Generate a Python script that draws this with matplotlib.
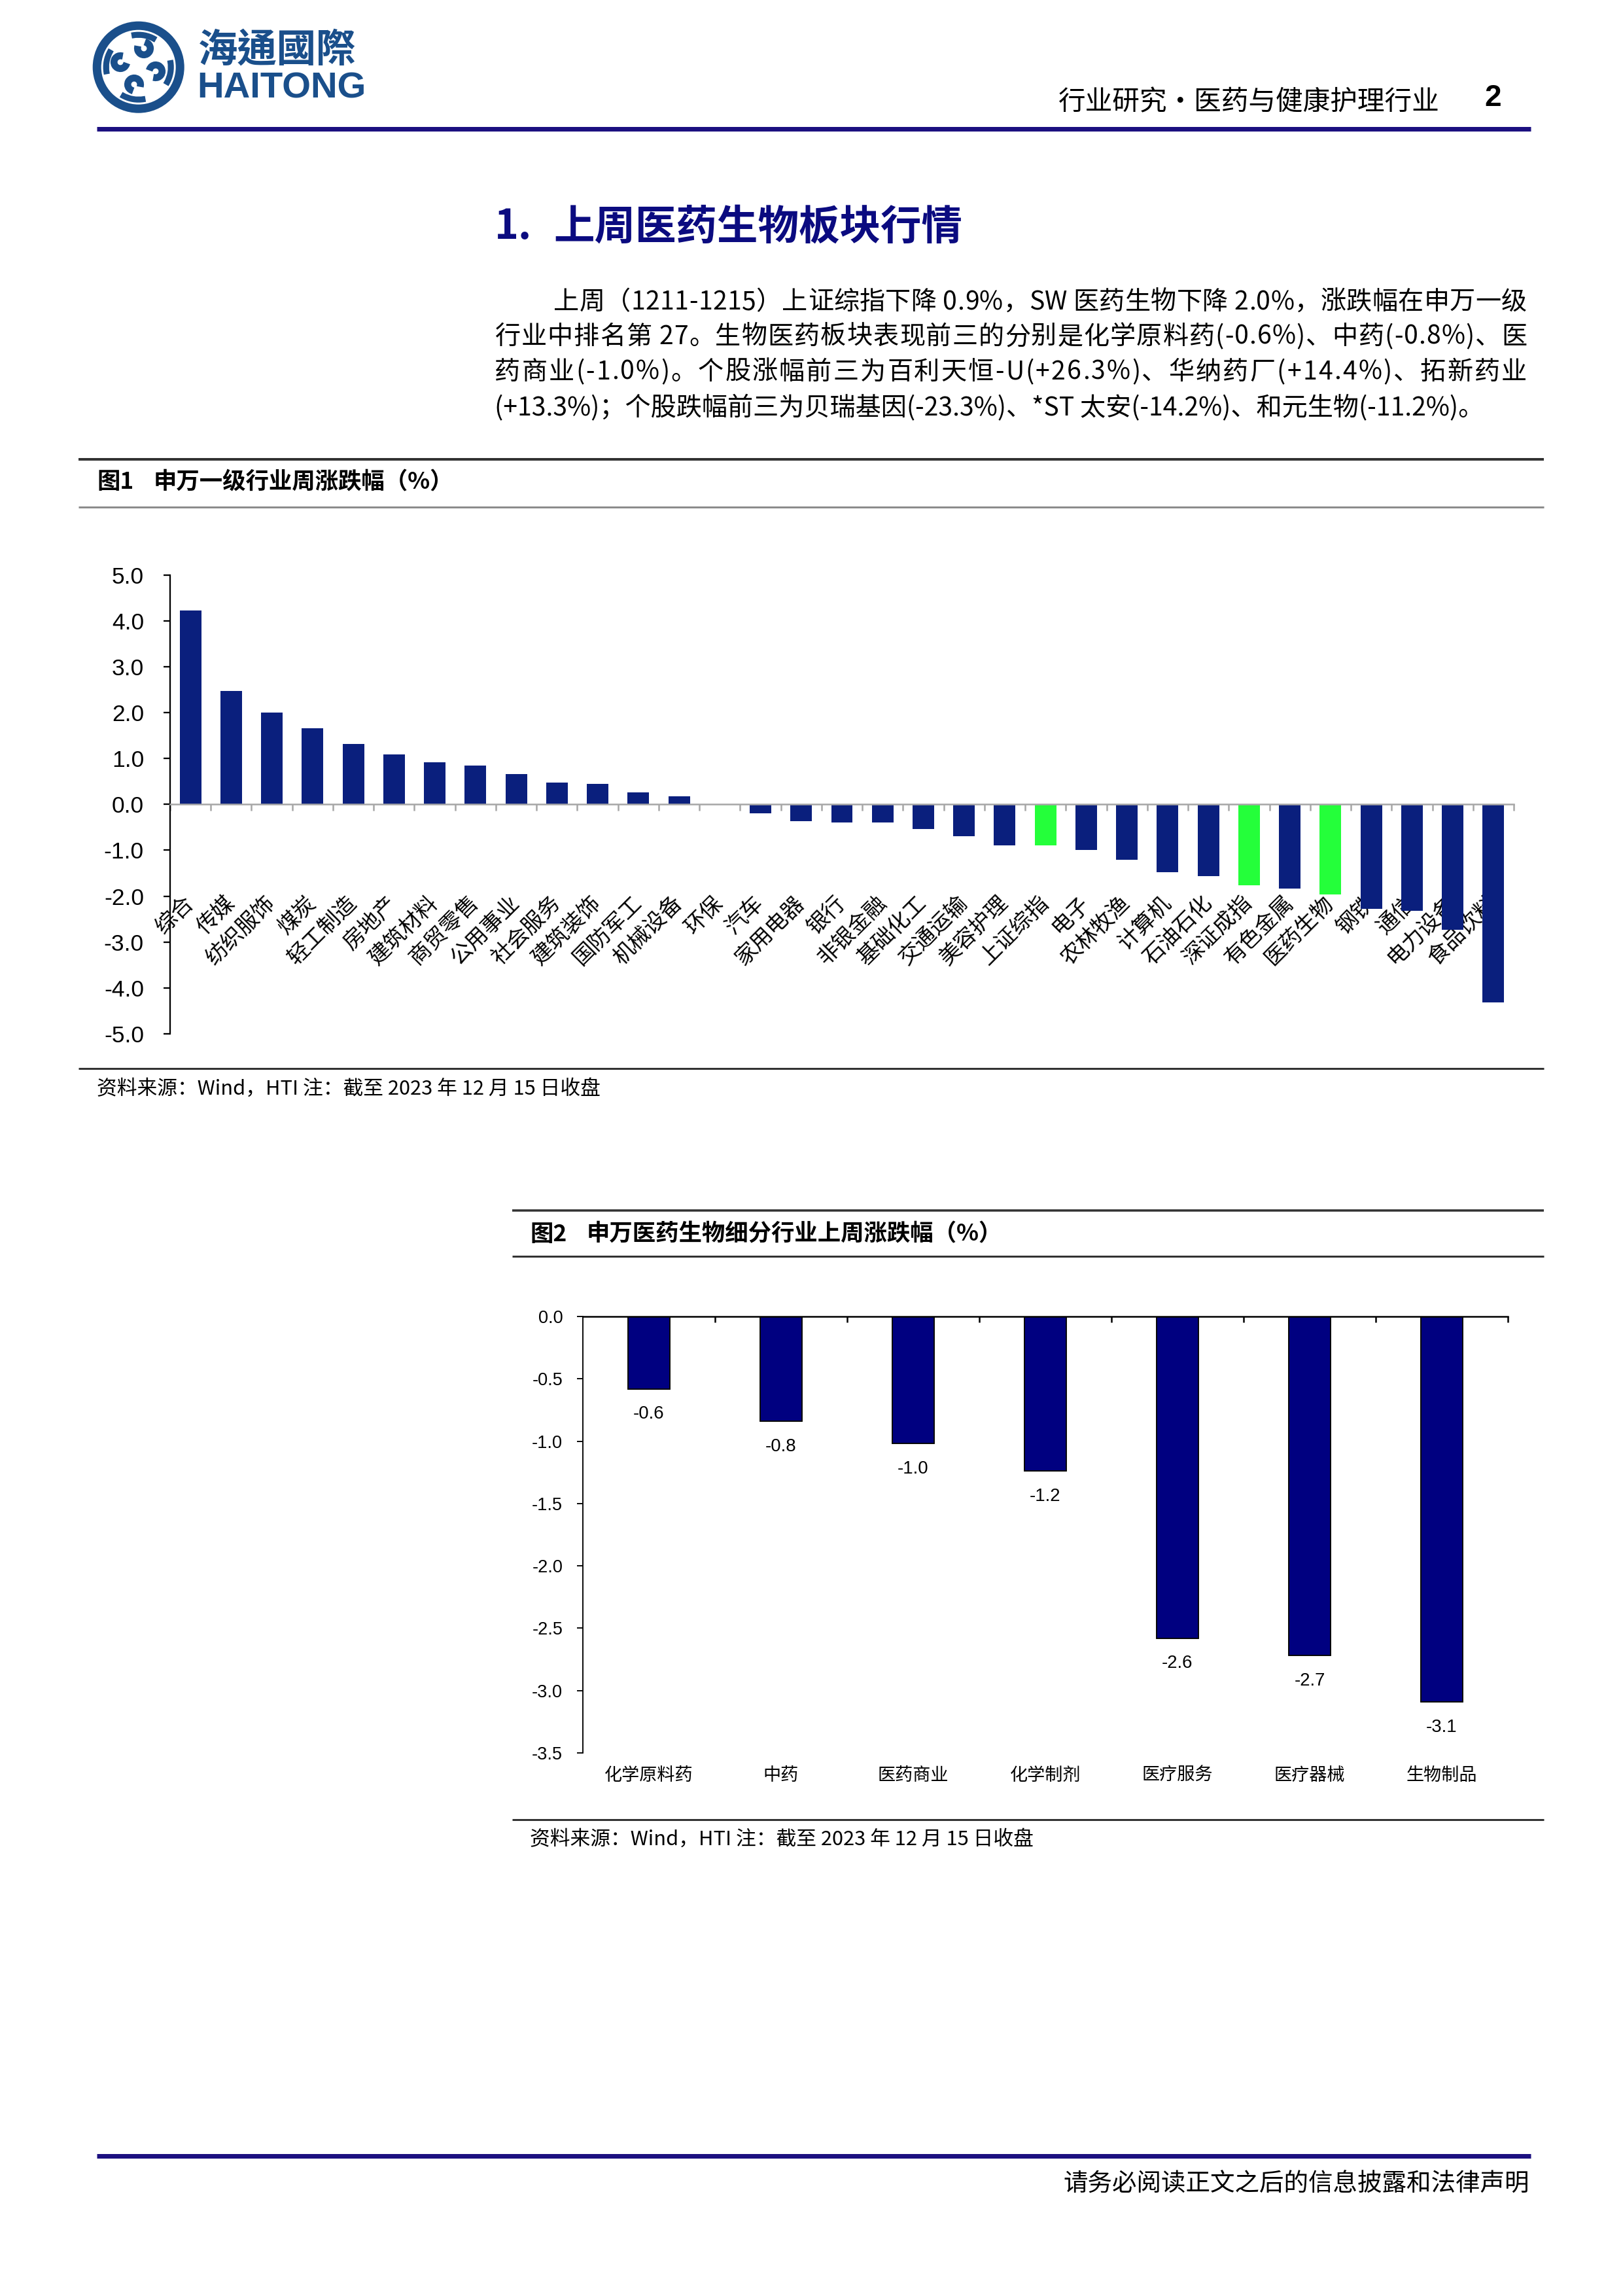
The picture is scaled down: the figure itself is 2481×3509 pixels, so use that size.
import numpy as np
import matplotlib
matplotlib.use('Agg')
import matplotlib.pyplot as plt
from matplotlib.lines import Line2D
from matplotlib.patches import Circle, Wedge
from matplotlib.font_manager import FontProperties

plt.rcParams['font.family'] = ['Noto Sans CJK SC', 'DejaVu Sans']
plt.rcParams['axes.unicode_minus'] = False

# chart 1: SW level-1 industries, weekly change (%)
names1 = ['综合', '传媒', '纺织服饰', '煤炭', '轻工制造', '房地产', '建筑材料', '商贸零售',
          '公用事业', '社会服务', '建筑装饰', '国防军工', '机械设备', '环保', '汽车', '家用电器',
          '银行', '非银金融', '基础化工', '交通运输', '美容护理', '上证综指', '电子', '农林牧渔',
          '计算机', '石油石化', '深证成指', '有色金属', '医药生物', '钢铁', '通信', '电力设备', '食品饮料']
vals1 = [4.22, 2.47, 2.00, 1.66, 1.32, 1.09, 0.92, 0.85, 0.66, 0.47, 0.44, 0.26, 0.17, -0.01,
         -0.19, -0.36, -0.39, -0.40, -0.54, -0.70, -0.89, -0.89, -0.99, -1.21, -1.48, -1.57,
         -1.76, -1.84, -1.97, -2.28, -2.32, -2.73, -4.32]
highlight = ['上证综指', '深证成指', '医药生物']
yticks1 = [5.0, 4.0, 3.0, 2.0, 1.0, 0.0, -1.0, -2.0, -3.0, -4.0, -5.0]

# chart 2: SW pharma sub-industries, last week change (%)
names2 = ['化学原料药', '中药', '医药商业', '化学制剂', '医疗服务', '医疗器械', '生物制品']
vals2 = [-0.58, -0.84, -1.02, -1.24, -2.58, -2.72, -3.09]
yticks2 = [0.0, -0.5, -1.0, -1.5, -2.0, -2.5, -3.0, -3.5]

para = ['上周（1211-1215）上证综指下降 0.9%，SW 医药生物下降 2.0%，涨跌幅在申万一级',
        '行业中排名第 27。生物医药板块表现前三的分别是化学原料药(-0.6%)、中药(-0.8%)、医',
        '药商业(-1.0%)。个股涨幅前三为百利天恒-U(+26.3%)、华纳药厂(+14.4%)、拓新药业',
        '(+13.3%)；个股跌幅前三为贝瑞基因(-23.3%)、*ST 太安(-14.2%)、和元生物(-11.2%)。']
source = '资料来源：Wind，HTI 注：截至 2023 年 12 月 15 日收盘'

W, H = 2481, 3509
fig = plt.figure(figsize=(W / 300, H / 300), dpi=300)
renderer = fig.canvas.get_renderer()


def fx(x):
    return x / W


def fy(y):
    return 1 - y / H


def hline(y, x0, x1, px, color):
    fig.add_artist(Line2D([fx(x0), fx(x1)], [fy(y), fy(y)], transform=fig.transFigure,
                          lw=px * 72 / 300, color=color, solid_capstyle='butt'))


def put_justified(s, x0, x1, y, prop):
    # spread the characters so the line fills x0..x1
    def w(t):
        return renderer.get_text_width_height_descent(t, prop, ismath=False)[0]
    ref = w('|')
    pos = [0.0] + [w(s[:k] + '|') - ref for k in range(1, len(s))]
    natural = w(s + '|') - ref
    gap = (x1 - x0 - natural) / (len(s) - 1)
    for k, c in enumerate(s):
        if c != ' ':
            fig.text(fx(x0 + pos[k] + k * gap), fy(y), c, fontproperties=prop, va='baseline')


# header / logo
blue = '#1A4F8B'
lax = fig.add_axes([fx(130), fy(190), fx(570) - fx(130), fy(20) - fy(190)])
lax.set_xlim(130, 570)
lax.set_ylim(190, 20)
lax.axis('off')
lax.add_patch(Circle((211.7, 102.7), 63.5, fill=False, lw=13 * 0.24, color=blue))
for (cx, cy), a in zip([(184, 95), (220, 74), (238, 109), (205, 129)], [20, 290, 200, 110]):
    lax.add_patch(Wedge((cx, cy), 13, a, a + 260, width=6.5, color=blue))
    lax.add_patch(Wedge((211.7, 102.7), 52, a + 60, a + 100, width=5, color=blue))
lax.text(303, 77, '海通國際', fontsize=14.5, weight='bold', color=blue, va='center',
         family=['Noto Sans CJK TC', 'DejaVu Sans'])
lax.text(301, 135, 'HAITONG', fontsize=13.5, weight='bold', color=blue, va='center',
         family='Liberation Sans')

fig.text(fx(2201), fy(157), '行业研究•医药与健康护理行业', fontsize=10, ha='right', va='center')
fig.text(fx(2282), fy(150), '2', fontsize=11, weight='bold', ha='center', va='center',
         family='Liberation Sans')
hline(197, 148, 2340, 7, '#1C1080')

# section title and text
fig.text(fx(756), fy(347), '1.', fontsize=15, weight='bold', color='#0B0B80', va='center')
fig.text(fx(846), fy(347), '上周医药生物板块行情', fontsize=15, weight='bold', color='#0B0B80',
         va='center')
pprop = FontProperties(family=['Noto Sans CJK SC', 'DejaVu Sans'], size=9.4)
line_y = [459, 512, 566, 620]
put_justified(para[0], 846, 2334, line_y[0] + 14, pprop)
put_justified(para[1], 756, 2334, line_y[1] + 14, pprop)
put_justified(para[2], 756, 2334, line_y[2] + 14, pprop)
fig.text(fx(756), fy(line_y[3] + 14), para[3], fontproperties=pprop, va='baseline')

# figure 1 frame
hline(702, 120, 2360, 4, '#333333')
fig.text(fx(148), fy(737), '图1', fontsize=8.5, weight='bold', va='center')
fig.text(fx(235), fy(737), '申万一级行业周涨跌幅（%）', fontsize=8.5, weight='bold', va='center')
hline(775, 120, 2360, 3, '#8C8C8C')
hline(1633, 120, 2360, 3, '#333333')
fig.text(fx(148), fy(1664), source, fontsize=7.4, va='center')

ax1 = fig.add_axes([fx(260), fy(1580), fx(2314) - fx(260), fy(878.5) - fy(1580)])
x1 = np.arange(len(names1))
colors1 = ['#24FF3A' if n in highlight else '#0A1F7D' for n in names1]
ax1.bar(x1, vals1, width=0.53, color=colors1, zorder=2)
ax1.set_xlim(-0.5, len(names1) - 0.5)
ax1.set_ylim(-5, 5)
ax1.set_yticks(yticks1)
ax1.set_yticklabels([f'{v:.1f}' for v in yticks1], family='Liberation Sans', fontsize=8.5)
ax1.spines['bottom'].set_position(('data', 0))
ax1.spines['bottom'].set_color('#A6A6A6')
ax1.spines['bottom'].set_linewidth(0.6)
ax1.spines['bottom'].set_zorder(3)
ax1.spines['left'].set_linewidth(0.55)
ax1.spines['top'].set_visible(False)
ax1.spines['right'].set_visible(False)
ax1.set_xticks(x1)
ax1.set_xticklabels(names1, rotation=45, ha='right', va='center', rotation_mode='anchor',
                    fontsize=8)
ax1.set_xticks(np.arange(-0.5, len(names1), 1), minor=True)
ax1.tick_params(axis='x', which='major', length=0, pad=35)
ax1.tick_params(axis='x', which='minor', length=2.4, width=0.6, color='#A6A6A6', direction='out')
ax1.tick_params(axis='y', length=2.4, width=0.55, pad=7.2, direction='out')

# figure 2 frame
hline(1850, 783, 2360, 3.5, '#333333')
fig.text(fx(810), fy(1886), '图2', fontsize=8.5, weight='bold', va='center')
fig.text(fx(897), fy(1886), '申万医药生物细分行业上周涨跌幅（%）', fontsize=8.5, weight='bold',
         va='center')
hline(1920, 783, 2360, 3, '#333333')
hline(2781, 783, 2360, 3, '#333333')
fig.text(fx(810), fy(2811), source, fontsize=7.4, va='center')

ax2 = fig.add_axes([fx(891), fy(2679), fx(2305) - fx(891), fy(2012) - fy(2679)])
x2 = np.arange(len(names2))
ax2.bar(x2, vals2, width=0.317, color='#000080', edgecolor='black', linewidth=0.45, zorder=2)
ax2.set_xlim(-0.5, len(names2) - 0.5)
ax2.set_ylim(-3.5, 0)
ax2.set_yticks(yticks2)
ax2.set_yticklabels([f'{v:.1f}' for v in yticks2], family='Liberation Sans', fontsize=6.5)
for s in ['bottom', 'right']:
    ax2.spines[s].set_visible(False)
ax2.spines['top'].set_linewidth(0.6)
ax2.spines['top'].set_zorder(3)
ax2.spines['left'].set_linewidth(0.45)
ax2.set_xticks(x2)
ax2.set_xticklabels(names2, fontsize=6.5)
ax2.set_xticks(np.arange(0.5, len(names2), 1), minor=True)
ax2.tick_params(axis='x', which='major', length=0, pad=5)
ax2.tick_params(axis='x', which='minor', bottom=False, top=True, direction='in', length=2.1,
                width=0.6)
ax2.tick_params(axis='y', length=2.1, width=0.45, pad=5.3, direction='out')
for xi, v in zip(x2, vals2):
    ax2.annotate(f'{v:.1f}', (xi, v), xytext=(0, -9.3), textcoords='offset points',
                 ha='center', va='center', fontsize=6.6, family='Liberation Sans')

# page footer
hline(3295, 148, 2340, 7, '#1C1080')
fig.text(fx(2338), fy(3338), '请务必阅读正文之后的信息披露和法律声明', fontsize=9, ha='right',
         va='center')

fig.savefig('out.png', dpi=300)
